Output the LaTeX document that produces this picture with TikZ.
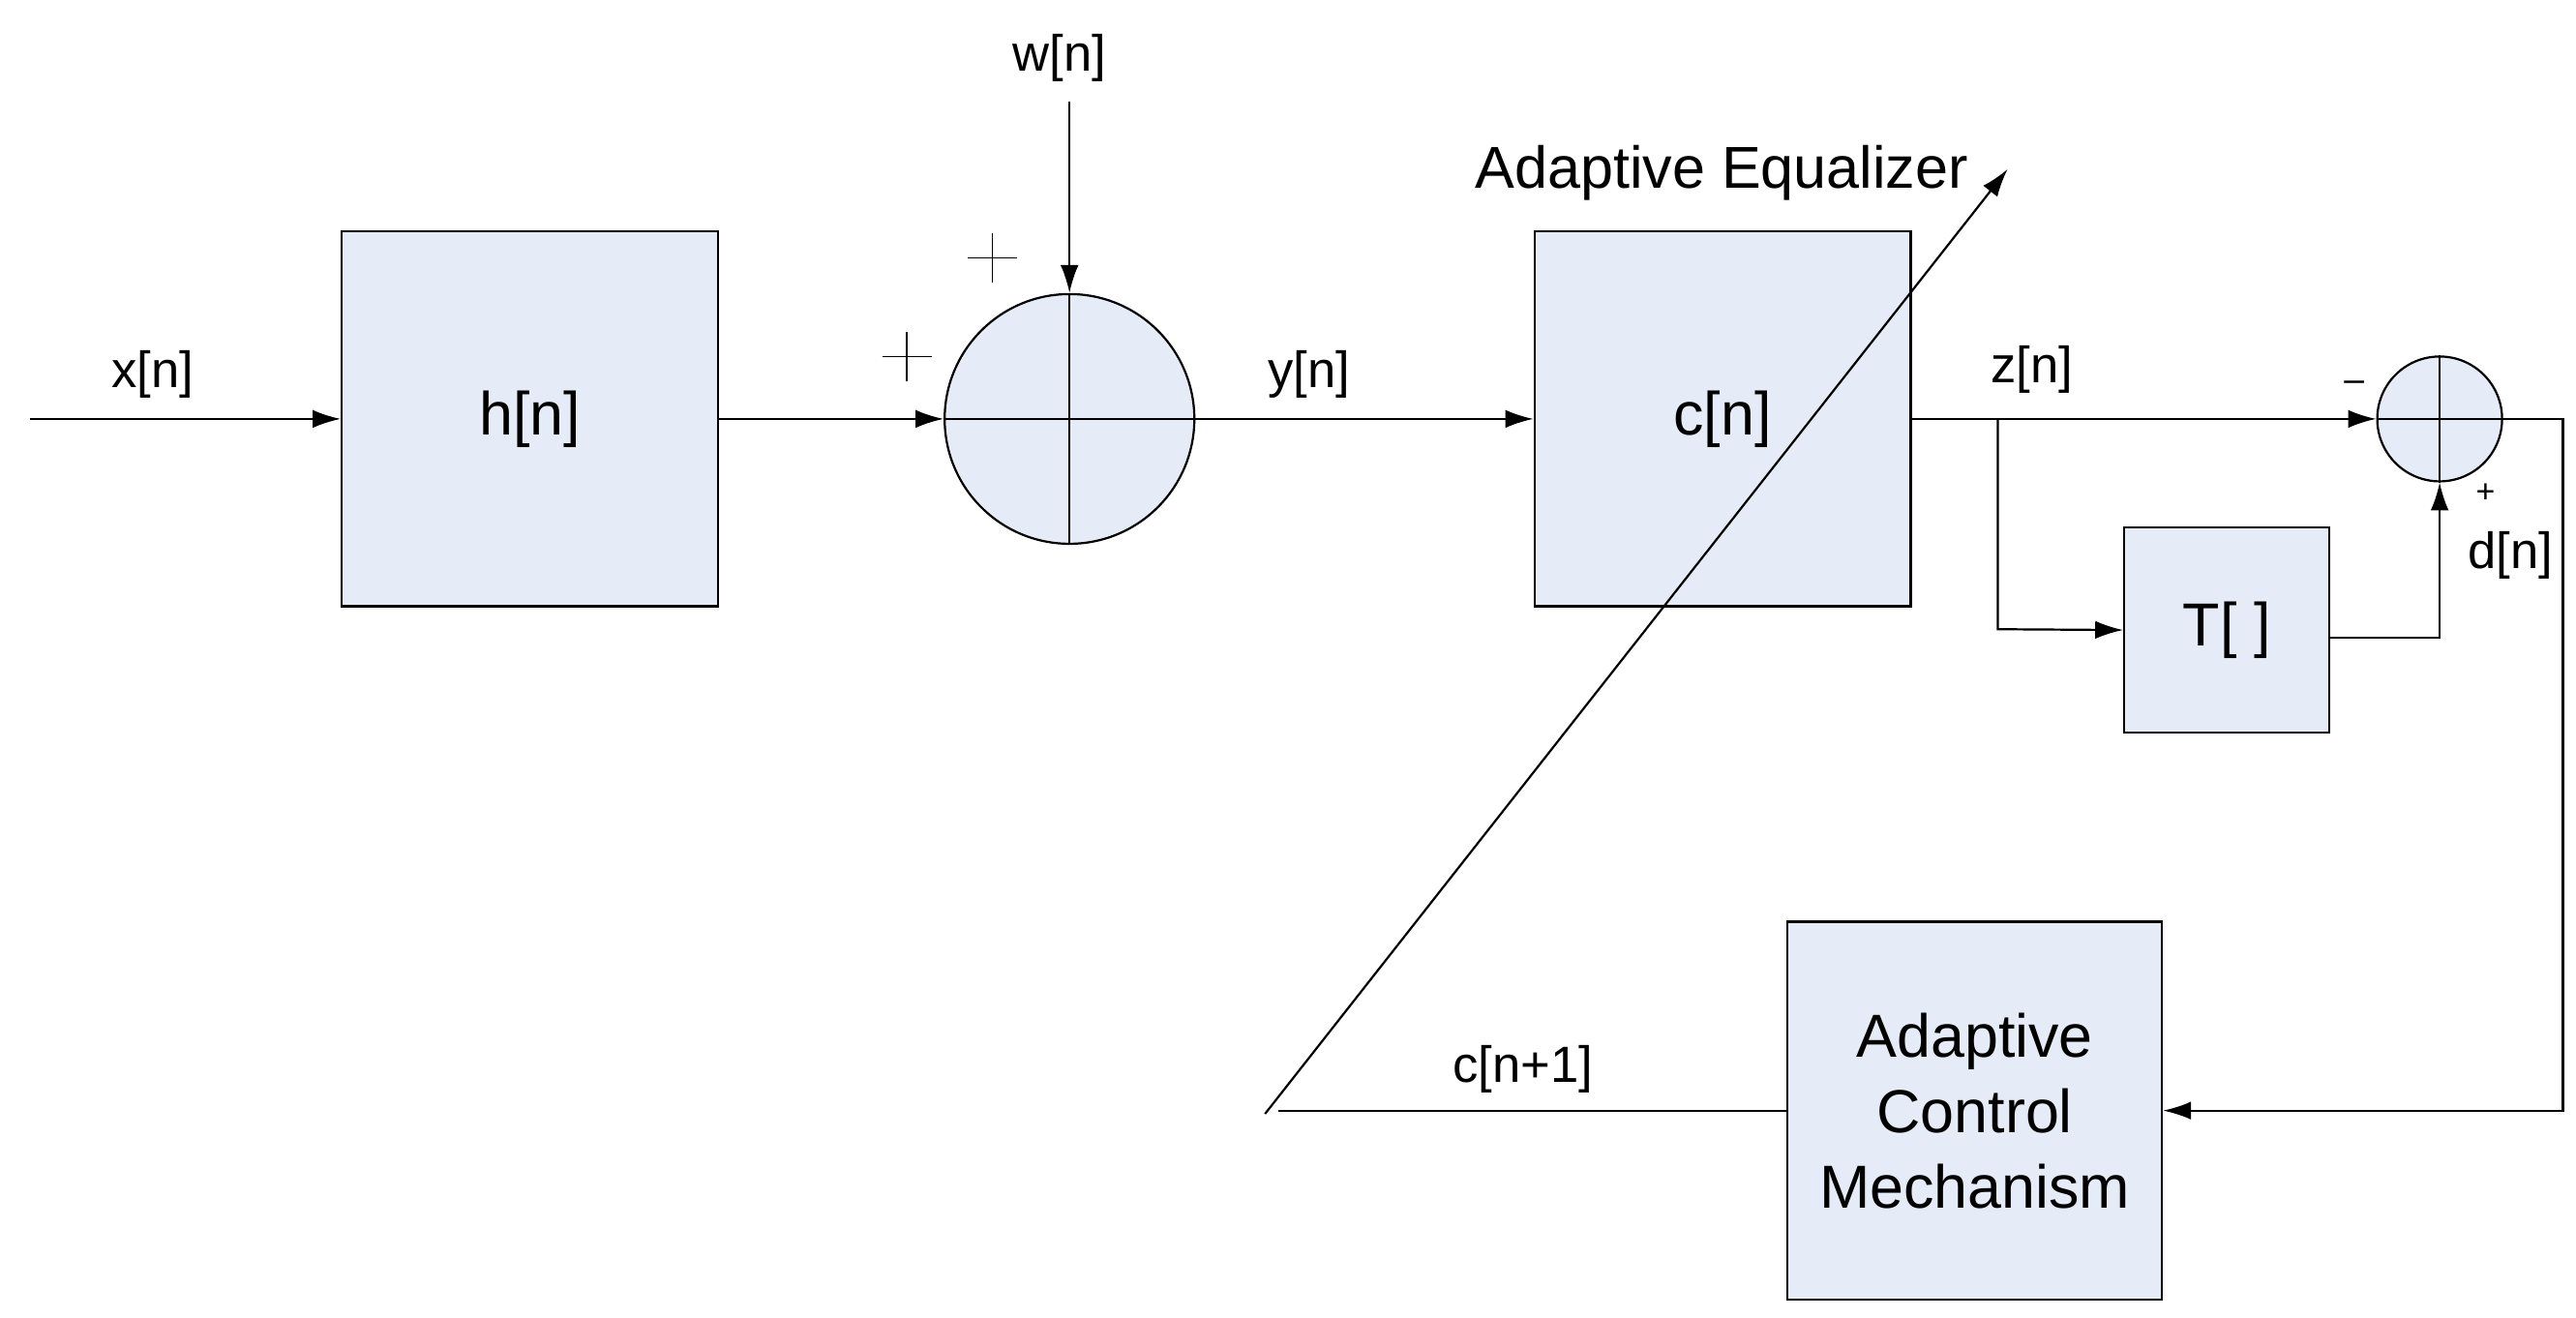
\documentclass[tikz,border=0pt]{standalone}
\usepackage{fontspec}
\setmainfont{Liberation Sans}
\usetikzlibrary{arrows.meta}
\definecolor{boxfill}{HTML}{E6ECF7}
\begin{document}
\begin{tikzpicture}[x=1pt,y=-1pt,line width=1.3pt,
  arr/.style={-{Latex[length=17pt,width=11pt]}},
  blk/.style={draw,fill=boxfill,inner sep=0pt},
  big/.style={font=\fontsize{37}{46}\selectfont},
  lbl/.style={font=\fontsize{31}{36}\selectfont}]
\useasboundingbox (0,0) rectangle (1568,802);
\node[blk,minimum width=229pt,minimum height=228pt,big] (h) at (322.5,255) {h[n]};
\node[blk,minimum width=229pt,minimum height=228pt,big] (c) at (1048.5,255) {c[n]};
\node[blk,minimum width=125pt,minimum height=125pt,big] (T) at (1355.5,383.5) {T[ ]};
\node[blk,minimum width=228pt,minimum height=230pt,big,align=center] (acm) at (1202,676) {Adaptive\\Control\\Mechanism};
\node[blk,circle,minimum size=152pt] (s1) at (651,255) {};
\draw (s1.north) -- (s1.south) (s1.west) -- (s1.east);
\node[blk,circle,minimum size=76pt] (s2) at (1485,255) {};
\draw (s2.north) -- (s2.south) (s2.west) -- (s2.east);
\coordinate (xin) at (18,255);
\coordinate (wtop) at (651,62);
\coordinate (br) at (1216,255);
\coordinate (bd) at (1216,383);
\coordinate (tr) at (1485,388);
\coordinate (rc) at (1560,255);
\coordinate (rb) at (1560,676);
\coordinate (cend) at (778,676);
\coordinate (d1) at (770,678);
\coordinate (d2) at (1222,103);
\draw[arr] (xin) -- (h.west);
\draw[arr] (h.east) -- (s1.west);
\draw[arr] (wtop) -- (s1.north);
\draw[arr] (s1.east) -- (c.west);
\draw[arr] (c.east) -- (s2.west);
\draw[arr] (br) -- (bd) -- (T.west);
\draw[arr] (T.east |- tr) -- (tr) -- (s2.south);
\draw[arr] (s2.east) -- (rc) -- (rb) -- (acm.east);
\draw (acm.west) -- (cend);
\draw[arr] (d1) -- (d2);
\node[lbl] (lx) at (93,228) {x[n]};
\node[lbl] (lw) at (645,35) {w[n]};
\node[lbl] (ly) at (797,228) {y[n]};
\node[lbl] (lz) at (1237,225) {z[n]};
\node[lbl] (ld) at (1528,338) {d[n]};
\node[lbl] (lc) at (927,651) {c[n+1]};
\node[font=\fontsize{36}{40}\selectfont] (le) at (1048,105) {Adaptive Equalizer};
\coordinate (p1) at (552,217);
\coordinate (p2) at (604,157);
\draw[line width=1pt] ([xshift=-15pt]p1) -- ([xshift=15pt]p1) ([yshift=-15pt]p1) -- ([yshift=15pt]p1);
\draw[line width=1pt] ([xshift=-15pt]p2) -- ([xshift=15pt]p2) ([yshift=-15pt]p2) -- ([yshift=15pt]p2);
\node[font=\fontsize{22}{22}\selectfont] (m) at (1433,235) {–};
\node[font=\fontsize{20}{20}\selectfont] (p3) at (1513,300) {+};
\end{tikzpicture}
\end{document}
